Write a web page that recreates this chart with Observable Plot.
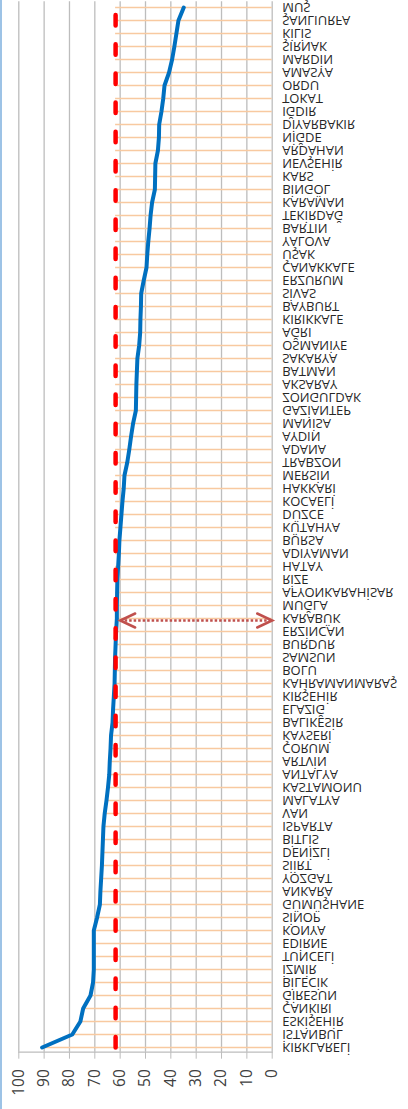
<!DOCTYPE html>
<html><head><meta charset="utf-8">
<script src="https://cdn.jsdelivr.net/npm/d3@7"></script>
<script src="https://cdn.jsdelivr.net/npm/@observablehq/plot@0.6"></script>
<style>
html,body{margin:0;padding:0;background:#fff;}
#chart{border-left:2px solid #9dc3e6;width:406px;height:1109px;overflow:hidden;}
#chart svg{display:block;}
</style></head><body><div id="chart"></div>
<script>
const provinces = ["KIRKLARELİ","İSTANBUL","ESKİŞEHİR","ÇANKIRI","GİRESUN","BİLECİK","İZMİR","TUNCELİ","EDİRNE","KONYA","SİNOP","GÜMÜŞHANE","ANKARA","YOZGAT","SİİRT","DENİZLİ","BİTLİS","ISPARTA","VAN","MALATYA","KASTAMONU","ANTALYA","ARTVİN","ÇORUM","KAYSERİ","BALIKESİR","ELAZIĞ","KIRŞEHİR","KAHRAMANMARAŞ","BOLU","SAMSUN","BURDUR","ERZİNCAN","KARABÜK","MUĞLA","AFYONKARAHİSAR","RİZE","HATAY","ADIYAMAN","BURSA","KÜTAHYA","DÜZCE","KOCAELİ","HAKKARİ","MERSİN","TRABZON","ADANA","AYDIN","MANİSA","GAZİANTEP","ZONGULDAK","AKSARAY","BATMAN","SAKARYA","OSMANİYE","AĞRI","KIRIKKALE","BAYBURT","SİVAS","ERZURUM","ÇANAKKALE","UŞAK","YALOVA","BARTIN","TEKİRDAĞ","KARAMAN","BİNGÖL","KARS","NEVŞEHİR","ARDAHAN","NİĞDE","DİYARBAKIR","IĞDIR","TOKAT","ORDU","AMASYA","MARDİN","ŞIRNAK","KİLİS","ŞANLIURFA","MUŞ"];
const values = [90.8,78.9,75.7,74.6,71.7,70.7,70.4,70.4,70.4,70.4,69.1,68.0,67.8,67.5,67.2,67.0,66.8,66.6,66.1,65.4,64.8,64.3,64.1,63.8,63.6,63.0,62.8,62.5,62.2,62.1,62.0,61.8,61.6,61.3,61.3,61.2,61.1,60.8,60.5,60.3,59.9,59.5,59.1,58.6,58.3,57.2,56.4,55.7,54.9,53.8,53.7,53.6,53.4,53.2,52.5,52.1,52.0,51.8,51.7,50.7,49.6,49.3,48.9,48.4,48.0,47.4,46.3,46.2,46.1,45.1,44.7,44.6,43.7,43.0,42.5,40.7,39.5,38.6,37.8,37.0,34.9];
const average = 61.8;
const valueTicks = [0,10,20,30,40,50,60,70,80,90,100];
const arrowRow = "KARABÜK";
const arrowFrom = 60;
const arrowTo = 0;

const data = provinces.map((p, i) => ({province: p, value: values[i]}));
const chevronLeft = {draw(ctx) { ctx.moveTo(15, -7); ctx.lineTo(0, 0); ctx.lineTo(15, 7); }};
const chevronRight = {draw(ctx) { ctx.moveTo(-15, -7); ctx.lineTo(0, 0); ctx.lineTo(-15, 7); }};
const arrowColor = "#c0504d";
const gray = "#bdbdbd";

const chart = Plot.plot({
  width: 406, height: 1109,
  marginLeft: 16.3, marginRight: 136.3, marginTop: 1.3, marginBottom: 57.3,
  style: {fontFamily: "'Open Sans', sans-serif", background: "#fff", overflow: "visible"},
  x: {domain: [0, 100], reverse: true},
  y: {type: "point", domain: provinces, reverse: true, padding: 0.34, axis: null},
  marks: [
    Plot.gridX(valueTicks, {stroke: gray, strokeOpacity: 1, strokeWidth: 1.3}),
    Plot.ruleY(data, {y: "province", x1: d => Math.max(d.value, average), x2: 0, stroke: "#f8c9a0", strokeWidth: 1.6}),
    Plot.line(data, {x: "value", y: "province", stroke: "#0070c0", strokeWidth: 4, strokeLinejoin: "round"}),
    Plot.line(provinces, {x: () => average, y: d => d, stroke: "#ff0000", strokeWidth: 4.5, strokeDasharray: "10.5,18.7", strokeLinecap: "round"}),
    Plot.frame({anchor: "bottom", stroke: gray, strokeWidth: 1.3}),
    Plot.axisX(valueTicks, {anchor: "bottom", tickSize: 7, tickPadding: 10, tickRotate: -90, stroke: gray, fill: "#404040", fontSize: 15.5, tickFormat: d => String(d), label: null}),
    Plot.link([{row: arrowRow}], {x1: () => arrowFrom, x2: () => arrowTo, y1: "row", y2: "row", dy: 2, stroke: arrowColor, strokeWidth: 2.5, strokeDasharray: "2.5,2"}),
    Plot.dot([{row: arrowRow}], {x: () => arrowFrom, y: "row", dy: 2, symbol: chevronLeft, fill: "none", stroke: arrowColor, strokeWidth: 2.5, strokeLinecap: "round"}),
    Plot.dot([{row: arrowRow}], {x: () => arrowTo, y: "row", dy: 2, symbol: chevronRight, fill: "none", stroke: arrowColor, strokeWidth: 2.5, strokeLinecap: "round"}),
    Plot.text(provinces, {x: () => 0, y: d => d, dx: 10, textAnchor: "start", fontSize: 13, fill: "#262626"})
  ]
});
document.getElementById("chart").appendChild(chart);

// category labels are drawn mirrored top-to-bottom, as in the reference
d3.select(chart).selectAll('g[aria-label="text"] text').each(function () {
  const t = this.getAttribute("transform");
  if (t) {
    this.setAttribute("transform", t + " scale(1,-1)");
  } else {
    const x = +this.getAttribute("x") || 0, y = +this.getAttribute("y") || 0;
    this.removeAttribute("x"); this.removeAttribute("y");
    this.setAttribute("transform", `translate(${x},${y}) scale(1,-1)`);
  }
});
</script></body></html>
